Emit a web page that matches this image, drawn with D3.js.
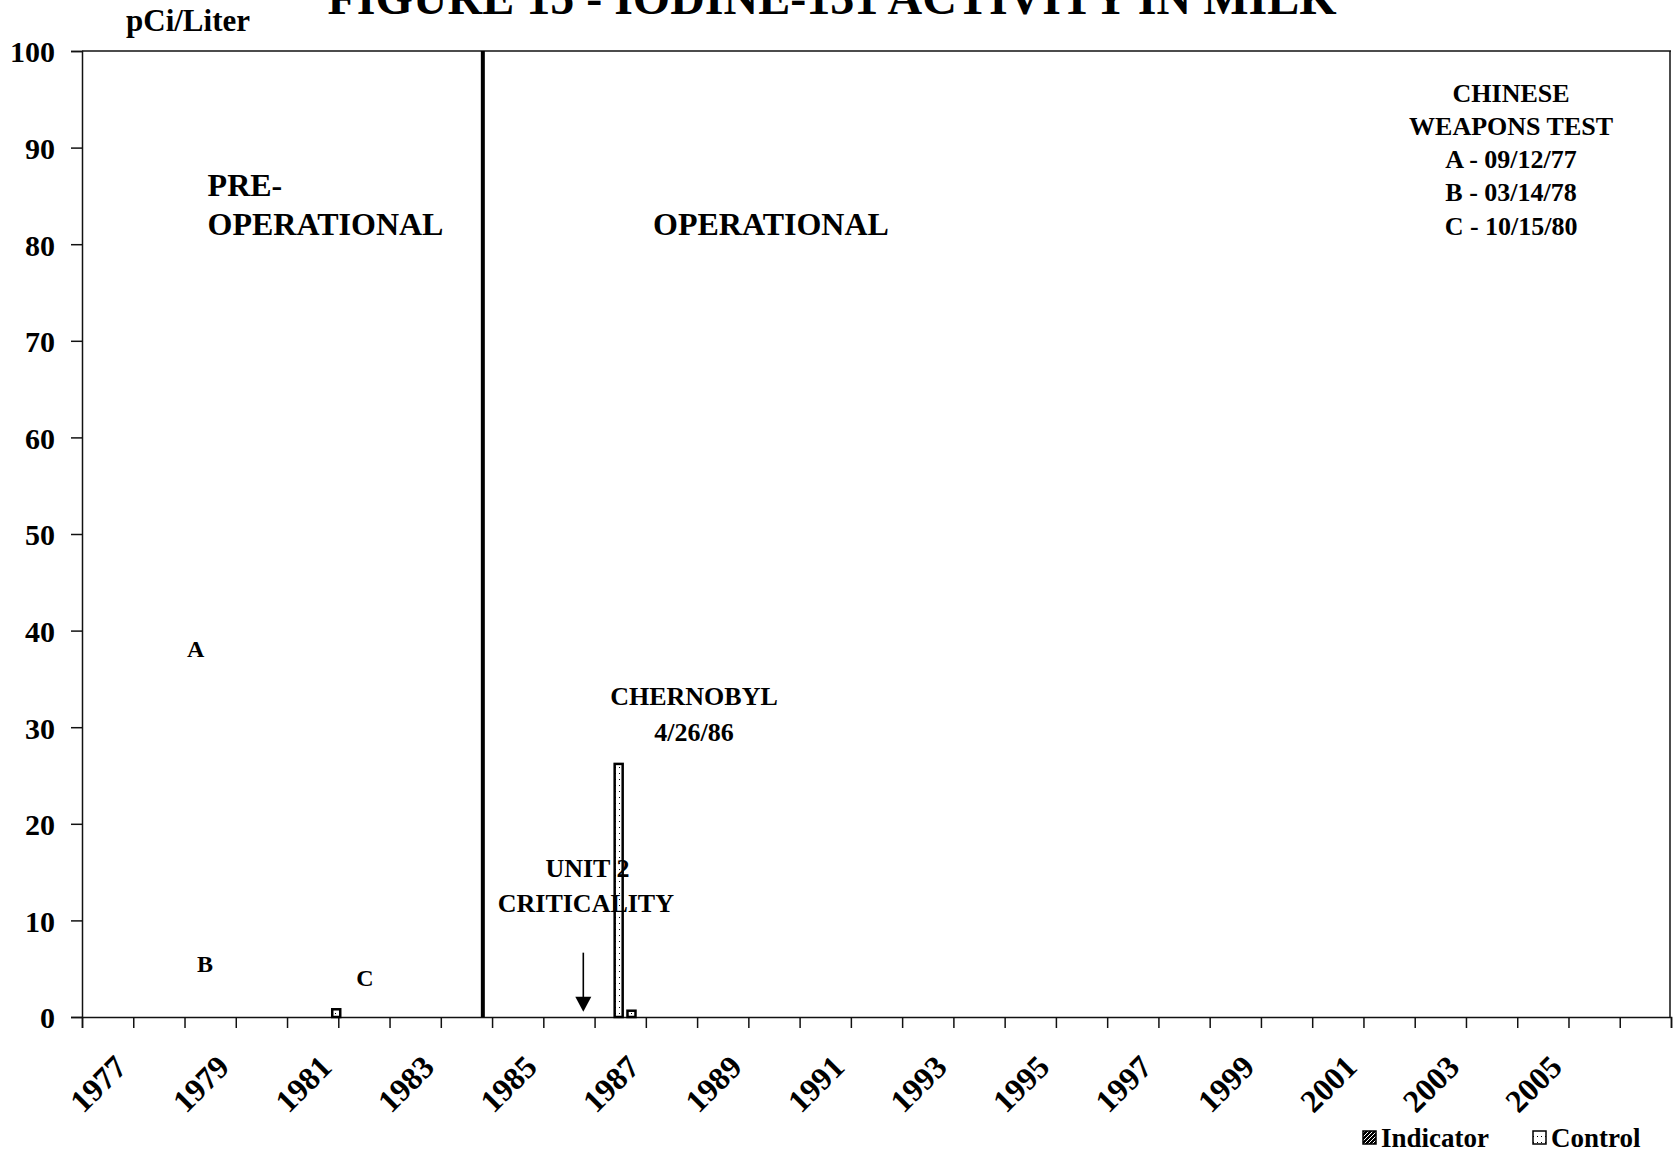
<!DOCTYPE html>
<html>
<head>
<meta charset="utf-8">
<script src="https://cdn.jsdelivr.net/npm/d3@7"></script>
<style>
  body { margin: 0; background: #fff; }
  svg text { font-family: "Liberation Serif", "Times New Roman", serif; font-weight: bold; fill: #000; }
</style>
</head>
<body>
<svg id="chart" width="1673" height="1153"></svg>
<script>
// categorie (anni) e etichette
var years = [1977, 1978, 1979, 1980, 1981, 1982, 1983, 1984, 1985, 1986, 1987, 1988, 1989, 1990, 1991,
             1992, 1993, 1994, 1995, 1996, 1997, 1998, 1999, 2000, 2001, 2002, 2003, 2004, 2005, 2006, 2007];
var yearLabels = [1977, 1979, 1981, 1983, 1985, 1987, 1989, 1991, 1993, 1995, 1997, 1999, 2001, 2003, 2005];
var yTicks = [0, 10, 20, 30, 40, 50, 60, 70, 80, 90, 100];

// serie (data in anni decimali, pCi/Liter)
var controlDates = [1981.96, 1987.47, 1987.72];
var controlValues = [0.8, 26.2, 0.65];
var indicatorDates = [];
var indicatorValues = [];

// eventi
var operationalStart = 1984.82;
var unit2Criticality = 1986.78;
var chineseTests = ["A - 09/12/77", "B - 03/14/78", "C - 10/15/80"];

var svg = d3.select("#chart"),
    marginLeft = 82,
    marginTop = 51,
    width = 1589,
    height = 966;

var xScale = d3.scaleLinear().domain([1977, 2008]).range([0, width]);
var xBand = d3.scaleBand().domain(years).range([0, width]).padding(0);
var yScale = d3.scaleLinear().domain([0, 100]).range([height, 0]);

var defs = svg.append("defs");
var dots = defs.append("pattern")
    .attr("id", "dots").attr("patternUnits", "userSpaceOnUse")
    .attr("width", 4).attr("height", 6);
dots.append("rect").attr("width", 4).attr("height", 6).attr("fill", "#fff");
dots.append("rect").attr("x", 1).attr("y", 2).attr("width", 1).attr("height", 1).attr("fill", "#000");
var hatch = defs.append("pattern")
    .attr("id", "hatch").attr("patternUnits", "userSpaceOnUse")
    .attr("width", 4).attr("height", 4);
hatch.append("rect").attr("width", 4).attr("height", 4).attr("fill", "#000");
hatch.append("path").attr("d", "M-1,1 l2,-2 M0,4 l4,-4 M3,5 l2,-2")
    .attr("stroke", "#fff").attr("stroke-width", 1);

// Titolo (tagliato in alto come nell'originale)
svg.append("text")
    .attr("x", 832).attr("y", 14)
    .attr("text-anchor", "middle")
    .style("font-size", "48px")
    .text("FIGURE 15 - IODINE-131 ACTIVITY IN MILK");

svg.append("text")
    .attr("x", 126).attr("y", 31)
    .style("font-size", "31px")
    .text("pCi/Liter");

var g = svg.append("g")
    .attr("transform", "translate(" + marginLeft + "," + marginTop + ")");

// bordo area grafico
g.append("line").attr("x1", 0).attr("x2", width).attr("y1", 0).attr("y2", 0)
    .attr("stroke", "#111").attr("stroke-width", 1.5);
g.append("line").attr("x1", width - 1).attr("x2", width - 1).attr("y1", 0).attr("y2", height)
    .attr("stroke", "#111").attr("stroke-width", 1.5);

// asse Y
var yAxis = g.append("g")
    .call(d3.axisLeft(yScale).tickValues(yTicks).tickSize(11).tickPadding(16));
yAxis.selectAll("text").style("font-size", "30px").attr("dy", "0.36em");
yAxis.selectAll("line, path").attr("stroke", "#111").attr("stroke-width", 1.5);

// asse X: tacche ai confini degli anni
var xAxis = g.append("g")
    .attr("transform", "translate(0," + height + ")")
    .call(d3.axisBottom(xScale).tickValues(years.concat([2008])).tickSize(11).tickFormat(""));
xAxis.selectAll("line, path").attr("stroke", "#111").attr("stroke-width", 1.5);

// etichette anni ruotate, centrate sulla categoria
var xLabels = g.append("g")
    .attr("transform", "translate(0," + height + ")")
    .call(d3.axisBottom(xBand).tickValues(yearLabels).tickSize(0));
xLabels.select(".domain").remove();
xLabels.selectAll("text")
    .style("font-size", "32px")
    .attr("text-anchor", "end")
    .attr("y", 0).attr("dy", 0)
    .attr("transform", "translate(21,52) rotate(-45)");

// linea pre-operazionale / operazionale
g.append("line")
    .attr("x1", xScale(operationalStart)).attr("x2", xScale(operationalStart))
    .attr("y1", yScale(100)).attr("y2", yScale(0))
    .attr("stroke", "#000").attr("stroke-width", 4);

// barre
var barW = 8;
var controlData = controlDates.map(function(d, i) { return {date: d, value: controlValues[i]}; });
var indicatorData = indicatorDates.map(function(d, i) { return {date: d, value: indicatorValues[i]}; });

g.append("g").selectAll("rect")
    .data(indicatorData).enter().append("rect")
    .attr("x", function(d) { return xScale(d.date) - barW; })
    .attr("y", function(d) { return yScale(d.value); })
    .attr("width", barW)
    .attr("height", function(d) { return yScale(0) - yScale(d.value); })
    .attr("fill", "url(#hatch)").attr("stroke", "#000").attr("stroke-width", 2);

g.append("g").selectAll("rect")
    .data(controlData).enter().append("rect")
    .attr("x", function(d) { return xScale(d.date) - barW / 2; })
    .attr("y", function(d) { return yScale(d.value); })
    .attr("width", barW)
    .attr("height", function(d) { return yScale(0) - yScale(d.value); })
    .attr("fill", "url(#dots)").attr("stroke", "#000").attr("stroke-width", 2.5);

// testi
function label(txt, yr, val, size, anchor) {
    return g.append("text")
        .attr("x", xScale(yr)).attr("y", yScale(val))
        .attr("text-anchor", anchor || "middle")
        .style("font-size", size + "px")
        .text(txt);
}
label("PRE-", 1979.45, 85.0, 32, "start");
label("OPERATIONAL", 1979.45, 81.0, 32, "start");
label("OPERATIONAL", 1988.14, 81.0, 32, "start");

label("CHINESE", 2004.88, 94.75, 26);
label("WEAPONS TEST", 2004.88, 91.3, 26);
chineseTests.forEach(function(t, i) {
    label(t, 2004.88, 87.9 - i * 3.45, 26);
});

label("A", 1979.22, 37.3, 24);
label("B", 1979.40, 4.7, 24);
label("C", 1982.52, 3.25, 24);

label("CHERNOBYL", 1988.94, 32.3, 26);
label("4/26/86", 1988.94, 28.6, 26);
label("UNIT 2", 1986.86, 14.5, 26);
label("CRITICALITY", 1986.83, 10.9, 26);

// freccia unit 2
var ax = xScale(unit2Criticality);
g.append("line")
    .attr("x1", ax).attr("x2", ax)
    .attr("y1", yScale(6.66)).attr("y2", yScale(1.5))
    .attr("stroke", "#000").attr("stroke-width", 1.6);
g.append("path")
    .attr("d", "M" + (ax - 8) + "," + yScale(2.1) + "L" + (ax + 8) + "," + yScale(2.1) + "L" + ax + "," + yScale(0.55) + "Z")
    .attr("fill", "#000");

// legenda
var legend = svg.append("g");
legend.append("rect").attr("x", 1363).attr("y", 1131).attr("width", 13).attr("height", 13)
    .attr("fill", "url(#hatch)").attr("stroke", "#000").attr("stroke-width", 1.5);
legend.append("text").attr("x", 1381).attr("y", 1147).style("font-size", "27px").text("Indicator");
legend.append("rect").attr("x", 1533).attr("y", 1131).attr("width", 13).attr("height", 13)
    .attr("fill", "url(#dots)").attr("stroke", "#000").attr("stroke-width", 1.5);
legend.append("text").attr("x", 1551).attr("y", 1147).style("font-size", "27px").text("Control");
</script>
</body>
</html>
